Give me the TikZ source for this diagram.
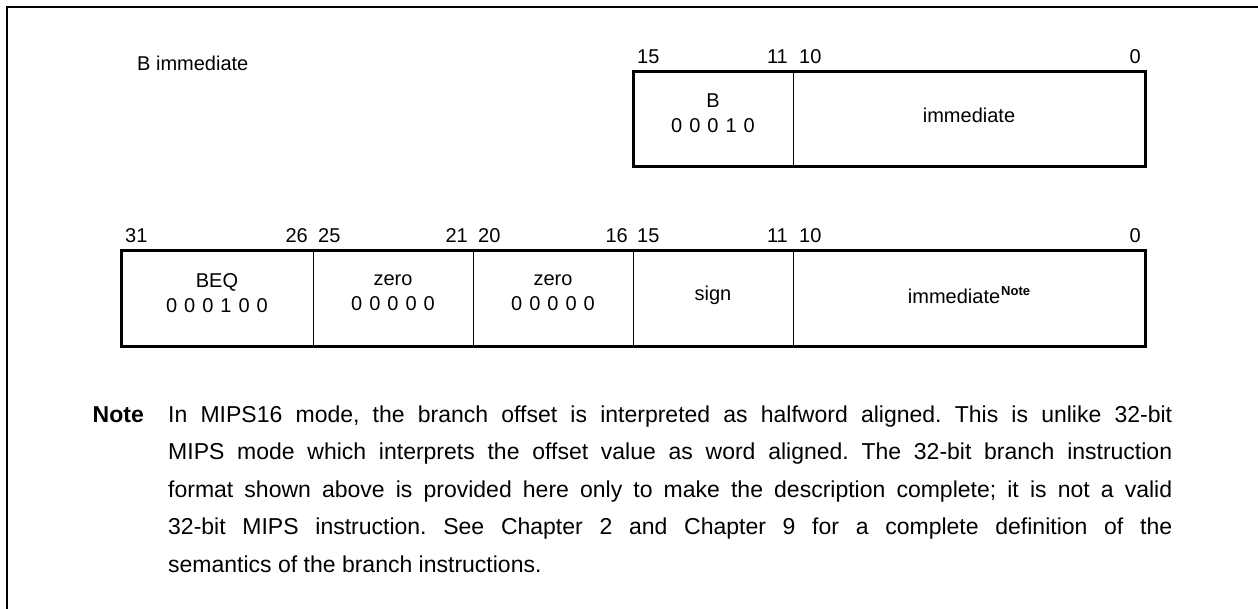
\documentclass[tikz,border=0pt]{standalone}
\usepackage{fontspec}
\setmainfont{Liberation Sans}
\frenchspacing
\newcommand\fieldfont{\fontsize{20}{25}\selectfont}
\newcommand\notefont{\fontsize{23}{37.5}\selectfont}
\newcommand\bitstr[1]{{\spaceskip=7pt\relax #1}}
\newcommand\jline[1]{\makebox[1004pt][s]{#1}}
\tikzset{
  fld/.style={draw, line width=1pt, inner sep=0pt, outer sep=0pt, anchor=north west, minimum height=95pt},
  ftxt/.style={font=\fieldfont, align=center, inner sep=0pt},
  hilbl/.style={font=\fieldfont, inner sep=0pt, anchor=base west},
  lolbl/.style={font=\fieldfont, inner sep=0pt, anchor=base east},
  outline/.style={line width=3pt},
  frameline/.style={line width=2pt},
  notetxt/.style={font=\notefont, inner sep=0pt, anchor=base west},
}
\begin{document}
\begin{tikzpicture}[x=1pt,y=-1pt]
\useasboundingbox (0,0) rectangle (1258,609);
\draw[frameline] (7,609) -- (7,7) -- (1258,7);

% title
\node[font=\fieldfont, inner sep=0pt, anchor=west] (title) at (137,63) {B immediate};

% 16-bit format
\node[fld, minimum width=160pt] (b1) at (633,72) {};
\node[fld, minimum width=352pt] (b2) at (793,72) {};
\draw[outline] (b1.north west) rectangle (b2.south east);
\node[ftxt] (b1t) at ([yshift=6pt]b1.center) {B\\\bitstr{0 0 0 1 0}};
\node[ftxt] (b2t) at ([yshift=4pt]b2.center) {immediate};
\node[hilbl] (l15) at ([shift={(4pt,8pt)}]b1.north west) {15};
\node[lolbl] (l11) at ([shift={(-5pt,8pt)}]b1.north east) {11};
\node[hilbl] (l10) at ([shift={(6pt,8pt)}]b2.north west) {10};
\node[lolbl] (l0) at ([shift={(-4pt,8pt)}]b2.north east) {0};

% 32-bit format
\node[fld, minimum width=192pt, minimum height=96pt] (a1) at (121,251) {};
\node[fld, minimum width=160pt, minimum height=96pt] (a2) at (313,251) {};
\node[fld, minimum width=160pt, minimum height=96pt] (a3) at (473,251) {};
\node[fld, minimum width=160pt, minimum height=96pt] (a4) at (633,251) {};
\node[fld, minimum width=352pt, minimum height=96pt] (a5) at (793,251) {};
\draw[outline] (a1.north west) rectangle (a5.south east);
\node[ftxt] (a1t) at ([yshift=6pt]a1.center) {BEQ\\\bitstr{0 0 0 1 0 0}};
\node[ftxt] (a2t) at ([yshift=6pt]a2.center) {zero\\\bitstr{0 0 0 0 0}};
\node[ftxt] (a3t) at ([yshift=6pt]a3.center) {zero\\\bitstr{0 0 0 0 0}};
\node[ftxt] (a4t) at ([yshift=4pt]a4.center) {sign};
\node[ftxt] (a5t) at ([yshift=4pt]a5.center) {immediate\kern1pt\raisebox{8pt}{\fontsize{13}{13}\selectfont\bfseries Note}};
\node[hilbl] (k31) at ([shift={(4pt,8pt)}]a1.north west) {31};
\node[lolbl] (k26) at ([shift={(-5pt,8pt)}]a1.north east) {26};
\node[hilbl] (k25) at ([shift={(5pt,8pt)}]a2.north west) {25};
\node[lolbl] (k21) at ([shift={(-5pt,8pt)}]a2.north east) {21};
\node[hilbl] (k20) at ([shift={(5pt,8pt)}]a3.north west) {20};
\node[lolbl] (k16) at ([shift={(-5pt,8pt)}]a3.north east) {16};
\node[hilbl] (k15) at ([shift={(4pt,8pt)}]a4.north west) {15};
\node[lolbl] (k11) at ([shift={(-5pt,8pt)}]a4.north east) {11};
\node[hilbl] (k10) at ([shift={(6pt,8pt)}]a5.north west) {10};
\node[lolbl] (k0) at ([shift={(-4pt,8pt)}]a5.north east) {0};

% note
\node[font=\notefont\bfseries, inner sep=0pt, anchor=base east] (nlbl) at (144,422) {Note};
\node[notetxt] (n1) at (168,422) {\jline{In MIPS16 mode, the branch offset is interpreted as halfword aligned. This is unlike 32-bit}};
\node[notetxt] (n2) at (168,459.5) {\jline{MIPS mode which interprets the offset value as word aligned. The 32-bit branch instruction}};
\node[notetxt] (n3) at (168,497) {\jline{format shown above is provided here only to make the description complete; it is not a valid}};
\node[notetxt] (n4) at (168,534.5) {\jline{32-bit MIPS instruction. See Chapter 2 and Chapter 9 for a complete definition of the}};
\node[notetxt] (n5) at (168,572) {semantics of the branch instructions.};
\end{tikzpicture}
\end{document}
